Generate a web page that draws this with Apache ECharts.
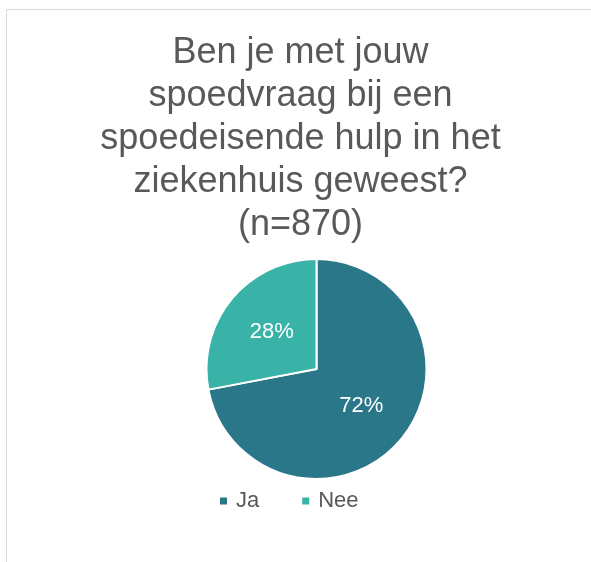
<!DOCTYPE html>
<html>
<head>
<meta charset="utf-8">
<script src="https://cdn.jsdelivr.net/npm/echarts@6/dist/echarts.min.js"></script>
<style>
html,body{margin:0;padding:0;background:#fff;}
#chart{width:591px;height:562px;}
</style>
</head>
<body>
<div id="chart"></div>
<script>
var titleText = 'Ben je met jouw\nspoedvraag bij een\nspoedeisende hulp in het\nziekenhuis geweest?\n(n=870)';
var categories = ['Ja', 'Nee'];
var values = [72, 28];
var colors = ['#2A778A', '#39B3A8'];

var chart = echarts.init(document.getElementById('chart'));
chart.setOption({
  animation: false,
  graphic: [{
    type: 'rect',
    shape: {x: 6.5, y: 9.5, width: 700, height: 700},
    style: {fill: 'none', stroke: '#d9d9d9', lineWidth: 1},
    silent: true
  }],
  title: {
    text: titleText,
    left: 300.5,
    textAlign: 'center',
    top: 32,
    padding: 0,
    textStyle: {
      fontFamily: 'Liberation Sans, Arial, sans-serif',
      fontSize: 36,
      fontWeight: 'normal',
      lineHeight: 43,
      color: '#595959'
    }
  },
  legend: {
    data: categories,
    left: 218,
    top: 490,
    icon: 'rect',
    itemWidth: 9,
    itemHeight: 9,
    itemGap: 41,
    padding: 0,
    textStyle: {
      fontFamily: 'Liberation Sans, Arial, sans-serif',
      fontSize: 22,
      color: '#595959',
      padding: [0, 0, 0, 3]
    }
  },
  series: [{
    type: 'pie',
    center: [316.5, 369],
    radius: 110,
    startAngle: 90,
    clockwise: true,
    avoidLabelOverlap: false,
    itemStyle: {borderColor: '#ffffff', borderWidth: 2},
    label: {
      show: true,
      position: 'inner',
      formatter: function (p) { return Math.round(p.percent) + '%'; },
      color: '#ffffff',
      fontFamily: 'Liberation Sans, Arial, sans-serif',
      fontSize: 22
    },
    labelLine: {show: false},
    emphasis: {disabled: true},
    data: categories.map(function (c, i) {
      return {name: c, value: values[i], itemStyle: {color: colors[i]}};
    })
  }]
});
</script>
</body>
</html>
